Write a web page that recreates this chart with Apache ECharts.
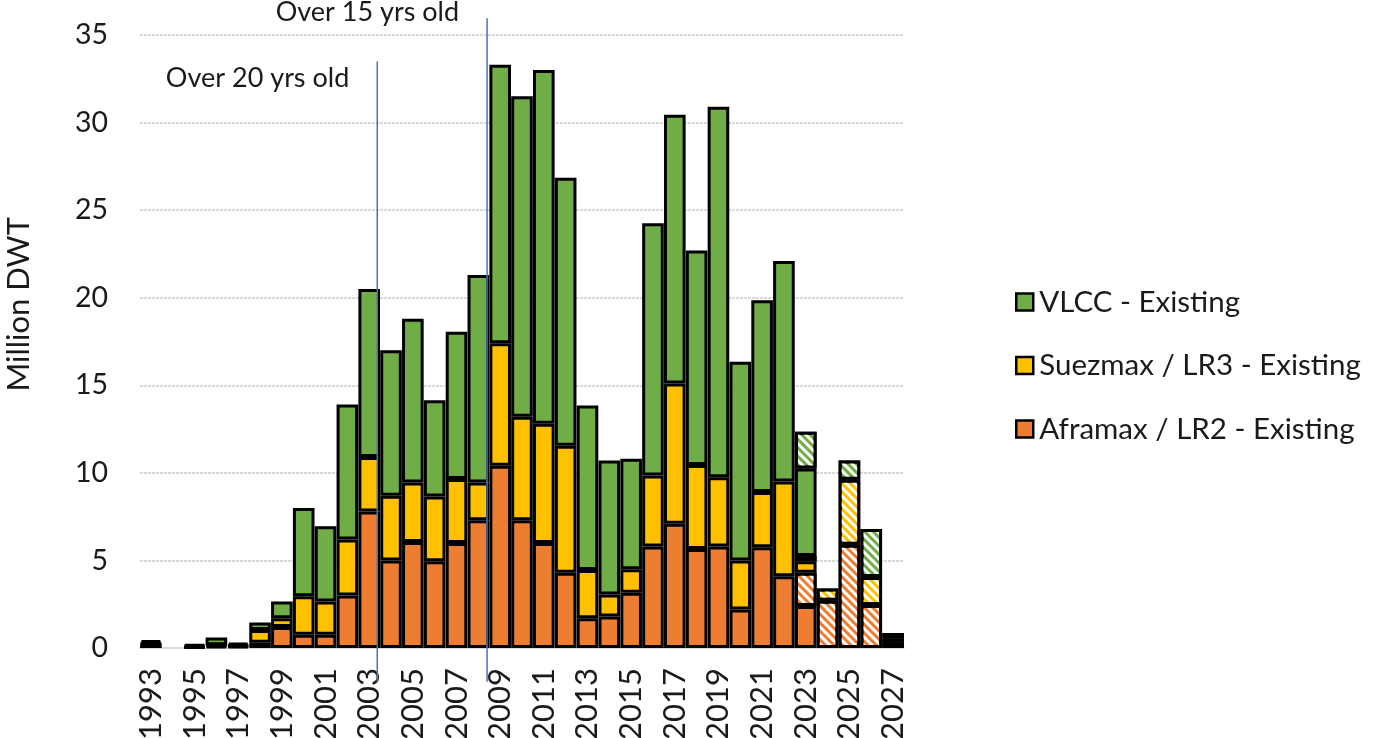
<!DOCTYPE html>
<html>
<head>
<meta charset="utf-8">
<script src="https://cdn.jsdelivr.net/npm/echarts@6/dist/echarts.min.js"></script>
<style>
html,body{margin:0;padding:0;background:#fff;}
#chart{width:1375px;height:738px;}
</style>
</head>
<body>
<div id="chart"></div>
<script>
// ---- Data ----
const years = ['1993','1994','1995','1996','1997','1998','1999','2000','2001','2002',
  '2003','2004','2005','2006','2007','2008','2009','2010','2011','2012',
  '2013','2014','2015','2016','2017','2018','2019','2020','2021','2022',
  '2023','2024','2025','2026','2027'];

const aframaxExisting = [0.25,0,0.05,0.1,0.1,0.3,1.2,0.75,0.75,3.0,
  7.8,5.0,6.05,4.95,6.0,7.3,10.4,7.3,6.0,4.3,
  1.7,1.8,3.15,5.8,7.1,5.65,5.8,2.2,5.75,4.1,
  2.4,0,0,0,0];
const suezmaxExisting = [0.05,0,0.05,0.05,0.05,0.73,0.5,2.2,1.9,3.2,
  3.1,3.7,3.4,3.7,3.65,2.15,7.0,5.9,6.8,7.25,
  2.75,1.25,1.35,4.05,8.0,4.8,3.95,2.8,3.15,5.4,
  0.65,0,0,0,0];
const vlccExisting = [0.15,0,0.1,0.45,0.15,0.42,0.95,5.05,4.3,7.7,
  9.6,8.3,9.35,5.5,8.4,11.85,15.9,18.3,20.2,15.3,
  9.4,7.65,6.3,14.4,15.35,12.25,21.15,11.35,10.95,12.6,
  5.0,0,0,0,0];
const aframaxOrderbook = [0,0,0,0,0,0,0,0,0,0,
  0,0,0,0,0,0,0,0,0,0,
  0,0,0,0,0,0,0,0,0,0,
  1.9,2.7,5.9,2.45,0.3];
const suezmaxOrderbook = [0,0,0,0,0,0,0,0,0,0,
  0,0,0,0,0,0,0,0,0,0,
  0,0,0,0,0,0,0,0,0,0,
  0.3,0.7,3.7,1.6,0.25];
const vlccOrderbook = [0,0,0,0,0,0,0,0,0,0,
  0,0,0,0,0,0,0,0,0,0,
  0,0,0,0,0,0,0,0,0,0,
  2.1,0,1.1,2.75,0.3];

const yTicks = [0,5,10,15,20,25,30,35];

// Age-threshold annotations (x in years, y extents in Million DWT)
const annoLabels = ['Over 20 yrs old','Over 15 yrs old'];
const annoYear   = [2003.87, 2008.9];
const annoBottom = [-1.92, -1.92];
const annoTop    = [33.48, 35.95];
const annoTextY  = [32.5, 36.3];

// ---- Styles ----
const FONT = 'Lato';
const COLORS = { aframax:'#ED7D31', suezmax:'#FFC000', vlcc:'#70AD47' };
const BORDER = { borderColor:'#000', borderWidth:3 };
const hatch = {
  symbol:'rect', symbolSize:1, dashArrayX:[1,0], dashArrayY:[2.2,2.2],
  rotation:Math.PI/4, color:'#ffffff'
};
const clean = arr => arr.map(v => v === 0 ? '-' : v);

function barSeries(name, data, color, hatched) {
  const itemStyle = Object.assign({ color: color }, BORDER);
  if (hatched) itemStyle.decal = hatch;
  return {
    name: name, type:'bar', stack:'total', data: clean(data),
    barCategoryGap:'1%', itemStyle: itemStyle, silent:true,
    xAxisIndex:0, yAxisIndex:0
  };
}

const chart = echarts.init(document.getElementById('chart'), null, {renderer:'canvas'});

chart.setOption({
  animation:false,
  backgroundColor:'#fff',
  grid:{ left:140, right:471, top:35, bottom:90, containLabel:false, outerBoundsMode:'none' },
  legend:{
    data:['VLCC - Existing','Suezmax / LR3 - Existing','Aframax / LR2 - Existing'],
    orient:'vertical', left:1010, top:282,
    itemWidth:17, itemHeight:17, itemGap:33.5,
    icon:'rect',
    itemStyle:{ borderColor:'#000', borderWidth:2.5 },
    textStyle:{ fontFamily:FONT, fontSize:29.5, color:'#1a1a1a', lineHeight:30, padding:[0,0,0,1] },
    selectedMode:false
  },
  xAxis:[{
    type:'category', data:years,
    axisLine:{ show:true, lineStyle:{ color:'#d9d9d9', width:2 } },
    axisTick:{ show:false },
    axisLabel:{ interval:1, rotate:90, margin:20, fontFamily:FONT, fontSize:31, color:'#1a1a1a' }
  },{
    type:'value', min:1993, max:2028, show:false
  }],
  yAxis:[{
    type:'value', min:yTicks[0], max:yTicks[yTicks.length-1], interval:yTicks[1]-yTicks[0],
    axisLine:{ show:false }, axisTick:{ show:false },
    axisLabel:{ margin:32, fontFamily:FONT, fontSize:28.5, color:'#1a1a1a' },
    splitLine:{ show:true, lineStyle:{ color:'#d9d9d9', width:2, type:[3,1] } }
  }],
  graphic:[{
    type:'text', left:3, top:217, rotation:Math.PI/2,
    style:{ text:'Million DWT', fontFamily:FONT, fontSize:31, fill:'#1a1a1a' }
  }],
  series:[
    barSeries('Aframax / LR2 - Existing', aframaxExisting, COLORS.aframax, false),
    barSeries('Aframax / LR2 - Orderbook', aframaxOrderbook, COLORS.aframax, true),
    barSeries('Suezmax / LR3 - Existing', suezmaxExisting, COLORS.suezmax, false),
    barSeries('Suezmax / LR3 - Orderbook', suezmaxOrderbook, COLORS.suezmax, true),
    barSeries('VLCC - Existing', vlccExisting, COLORS.vlcc, false),
    barSeries('VLCC - Orderbook', vlccOrderbook, COLORS.vlcc, true),
    {
      type:'custom', xAxisIndex:1, yAxisIndex:0, silent:true, clip:false, z:5,
      data: annoYear.map((x,i)=>[x, annoBottom[i], annoTop[i], annoTextY[i]]),
      encode:{ x:0, y:[1,2] },
      renderItem:function(params, api){
        const x = api.value(0);
        const p0 = api.coord([x, api.value(1)]);
        const p1 = api.coord([x, api.value(2)]);
        const pt = api.coord([x, api.value(3)]);
        return { type:'group', children:[
          { type:'line', shape:{ x1:p0[0], y1:p0[1], x2:p1[0], y2:p1[1] },
            style:{ stroke:'#4472C4', lineWidth:1.5 } },
          { type:'text', style:{ text:annoLabels[params.dataIndex], x:pt[0]-28, y:pt[1],
            align:'right', verticalAlign:'middle', fontFamily:FONT, fontSize:27, fill:'#1a1a1a' } }
        ]};
      }
    }
  ]
});
</script>
</body>
</html>
